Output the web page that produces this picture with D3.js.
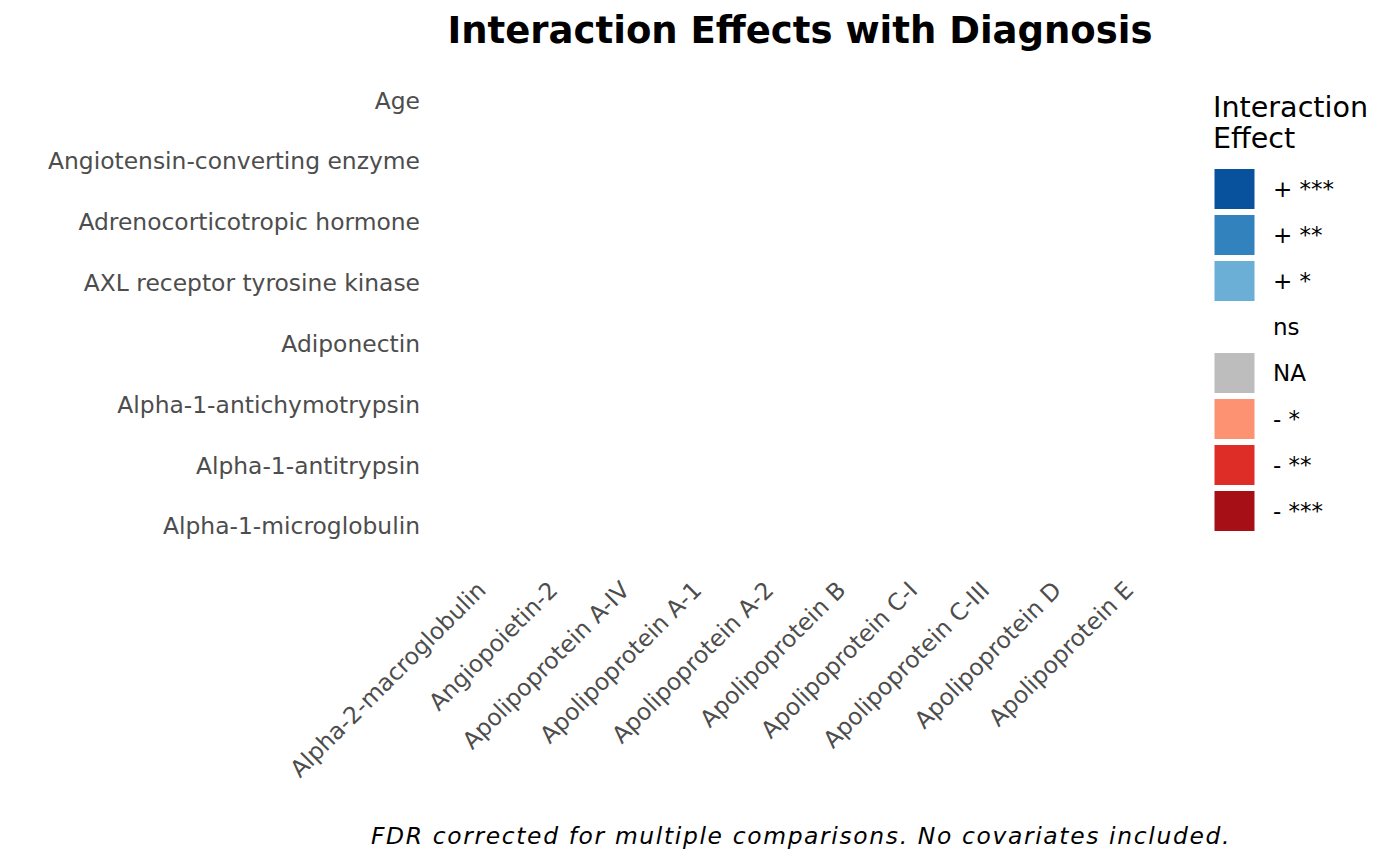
<!DOCTYPE html>
<html>
<head>
<meta charset="utf-8">
<script src="https://cdn.jsdelivr.net/npm/d3@7"></script>
<style>
  html, body { margin: 0; padding: 0; background: #ffffff; }
  svg { display: block; font-family: "DejaVu Sans", sans-serif; }
</style>
</head>
<body>
<svg id="chart" width="1400" height="866"></svg>
<script>
// ---- data ----
const rowLabels = [
  "Age",
  "Angiotensin-converting enzyme",
  "Adrenocorticotropic hormone",
  "AXL receptor tyrosine kinase",
  "Adiponectin",
  "Alpha-1-antichymotrypsin",
  "Alpha-1-antitrypsin",
  "Alpha-1-microglobulin"
];
const colLabels = [
  "Alpha-2-macroglobulin",
  "Angiopoietin-2",
  "Apolipoprotein A-IV",
  "Apolipoprotein A-1",
  "Apolipoprotein A-2",
  "Apolipoprotein B",
  "Apolipoprotein C-I",
  "Apolipoprotein C-III",
  "Apolipoprotein D",
  "Apolipoprotein E"
];
// significance category of each cell (rows x columns) - all non-significant
const effects = [
  ["ns","ns","ns","ns","ns","ns","ns","ns","ns","ns"],
  ["ns","ns","ns","ns","ns","ns","ns","ns","ns","ns"],
  ["ns","ns","ns","ns","ns","ns","ns","ns","ns","ns"],
  ["ns","ns","ns","ns","ns","ns","ns","ns","ns","ns"],
  ["ns","ns","ns","ns","ns","ns","ns","ns","ns","ns"],
  ["ns","ns","ns","ns","ns","ns","ns","ns","ns","ns"],
  ["ns","ns","ns","ns","ns","ns","ns","ns","ns","ns"],
  ["ns","ns","ns","ns","ns","ns","ns","ns","ns","ns"]
];
const effectLevels = ["+ ***", "+ **", "+ *", "ns", "NA", "- *", "- **", "- ***"];
const effectColors = ["#08519c", "#3182bd", "#6baed6", "#ffffff", "#bdbdbd", "#fc9272", "#de2d26", "#a50f15"];

const titleText = "Interaction Effects with Diagnosis";
const legendTitle = ["Interaction", "Effect"];
const captionText = "FDR corrected for multiple comparisons. No covariates included.";

// ---- layout ----
const svg = d3.select("#chart");
const panel = { left: 433, right: 1167, top: 64.5, bottom: 563.5 };

const x = d3.scaleBand().domain(colLabels).range([panel.left, panel.right]).paddingInner(0).paddingOuter(0.1);
const y = d3.scaleBand().domain(rowLabels).range([panel.top, panel.bottom]).paddingInner(0).paddingOuter(0.1);
const color = d3.scaleOrdinal().domain(effectLevels).range(effectColors);

const cells = [];
effects.forEach((row, i) => row.forEach((v, j) => cells.push({ r: rowLabels[i], c: colLabels[j], v })));

svg.append("g").selectAll("rect").data(cells).join("rect")
  .attr("x", d => x(d.c)).attr("y", d => y(d.r))
  .attr("width", x.bandwidth()).attr("height", y.bandwidth())
  .attr("fill", d => color(d.v)).attr("stroke", "#ffffff").attr("stroke-width", 1);

// y axis labels
const yAxis = svg.append("g").attr("transform", `translate(${panel.left},0)`)
  .call(d3.axisLeft(y).tickSize(0).tickPadding(13));
yAxis.select(".domain").remove();
yAxis.selectAll("text")
  .attr("fill", "#4d4d4d").attr("font-size", "23.4px")
  .attr("font-family", "DejaVu Sans, sans-serif").attr("dy", "0.32em");

// x axis labels (rotated 45)
const xAxis = svg.append("g").attr("transform", `translate(0,${panel.bottom})`)
  .call(d3.axisBottom(x).tickSize(0).tickPadding(0));
xAxis.select(".domain").remove();
xAxis.selectAll("text")
  .attr("fill", "#4d4d4d").attr("font-size", "23.4px")
  .attr("font-family", "DejaVu Sans, sans-serif")
  .attr("text-anchor", "end")
  .attr("y", 0).attr("dy", 0)
  .attr("transform", "translate(11,28) rotate(-45)");

// title
svg.append("text").attr("x", 800).attr("y", 43).attr("text-anchor", "middle")
  .attr("font-size", "37px").attr("font-weight", "bold").attr("fill", "#000")
  .text(titleText);

// caption
svg.append("text").attr("x", 801).attr("y", 844).attr("text-anchor", "middle")
  .attr("font-size", "23.4px").attr("font-style", "italic").attr("fill", "#000")
  .attr("letter-spacing", "1.65px")
  .text(captionText);

// legend
const legend = svg.append("g");
legend.selectAll("text.lt").data(legendTitle).join("text").attr("class", "lt")
  .attr("x", 1213).attr("y", (d, i) => 116.7 + i * 31)
  .attr("font-size", "28.6px").attr("fill", "#000").text(d => d);

const ly = d3.scaleBand().domain(effectLevels).range([166, 166 + 46 * effectLevels.length]).paddingInner(5 / 46).paddingOuter(2.5 / 46);
legend.selectAll("rect.key").data(effectLevels).join("rect").attr("class", "key")
  .attr("x", 1214).attr("y", d => ly(d)).attr("width", 41).attr("height", ly.bandwidth())
  .attr("fill", d => color(d)).attr("stroke", "#ffffff").attr("stroke-width", 1);
legend.selectAll("text.kl").data(effectLevels).join("text").attr("class", "kl")
  .attr("x", 1273).attr("y", d => ly(d) + ly.bandwidth() / 2).attr("dy", "0.35em")
  .attr("font-size", "23px").attr("fill", "#000").text(d => d);
</script>
</body>
</html>
